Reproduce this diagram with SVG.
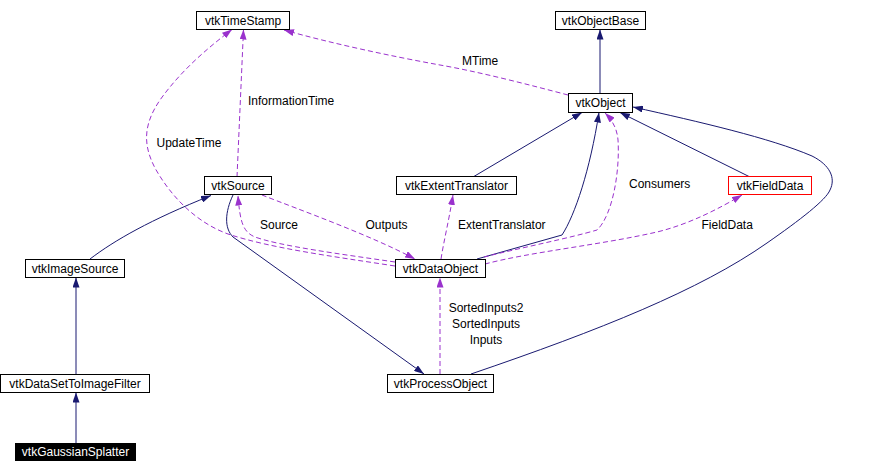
<svg xmlns="http://www.w3.org/2000/svg" width="872" height="474" viewBox="0 0 872 474">
<style>
.box{fill:#fff;stroke:#000;stroke-width:1}
.t{font-family:"Liberation Sans",Arial,sans-serif;font-size:12px;fill:#000;text-anchor:middle}
.lbl{font-family:"Liberation Sans",Arial,sans-serif;font-size:12px;fill:#000}
.inh{fill:none;stroke:#191970;stroke-width:1;marker-end:url(#an)}
.use{fill:none;stroke:#9a32cd;stroke-width:1;stroke-dasharray:5,3;marker-end:url(#ap)}
</style>
<defs>
<marker id="an" viewBox="0 0 10 7" refX="10" refY="3.5" markerWidth="10" markerHeight="7" markerUnits="userSpaceOnUse" orient="auto">
<path d="M0,0 L10,3.5 L0,7 z" fill="#191970"/>
</marker>
<marker id="ap" viewBox="0 0 10 7" refX="10" refY="3.5" markerWidth="10" markerHeight="7" markerUnits="userSpaceOnUse" orient="auto">
<path d="M0,0 L10,3.5 L0,7 z" fill="#9a32cd"/>
</marker>
</defs>
<rect width="872" height="474" fill="#fff"/>
<g id="connectors">
<path class="inh" d="M600,93 L600,29.5"/>
<path class="inh" d="M473,177 L582,112.5"/>
<path class="inh" d="M477,259 L562,235 C575,215 590,170 599,112.5"/>
<path class="inh" d="M750,177 L620,112.5"/>
<path class="inh" d="M471,374 C600,330 700,290 767,243 C800,220 826,200 830,190 C836,178 830,165 812,156 C770,138 700,122 633,107"/>
<path class="inh" d="M233,195 C225,212 224,228 233,237 L424,374"/>
<path class="inh" d="M90,259 C115,240 150,220 211,195.5"/>
<path class="inh" d="M76,374 L76,277.5"/>
<path class="inh" d="M76,443 L76,392.5"/>
<path class="use" d="M237,177 L243.5,29.5"/>
<path class="use" d="M395,266 C330,256 270,248 228,234 C195,222 170,195 155,168 C143,145 143,125 160,100 C180,72 205,50 232,29.5"/>
<path class="use" d="M395,262 C340,254 280,246 255,237 C243,232 240,222 238,195.5"/>
<path class="use" d="M262,195 C300,210 370,235 415,259"/>
<path class="use" d="M441,259 C444,240 449,220 453,195"/>
<path class="use" d="M484,257 C520,248 570,238 597,230 C613,215 620,170 618,140 C617,128 612,120 605,113"/>
<path class="use" d="M485,264 C530,252 600,245 657,232 C690,224 720,208 742,195"/>
<path class="use" d="M568,95 C530,85 480,72 440,65 C390,56 330,43 284,30"/>
<path class="use" d="M440,374 L440,277.5"/>
<text class="lbl" x="462" y="64.5">MTime</text>
<text class="lbl" x="248" y="105">InformationTime</text>
<text class="lbl" x="156.5" y="147">UpdateTime</text>
<text class="lbl" x="629" y="188">Consumers</text>
<text class="lbl" x="260" y="228.5">Source</text>
<text class="lbl" x="365.5" y="228.5">Outputs</text>
<text class="lbl" x="458" y="229">ExtentTranslator</text>
<text class="lbl" x="701.5" y="229">FieldData</text>
<text class="t" x="486" y="312">SortedInputs2</text>
<text class="t" x="486" y="328">SortedInputs</text>
<text class="t" x="486" y="344">Inputs</text>
</g>
<g id="vtkTimeStamp"><rect class="box" x="196.5" y="11.5" width="93" height="18"/><text class="t" x="243" y="24.5">vtkTimeStamp</text></g>
<g id="vtkObjectBase"><rect class="box" x="555.5" y="11.5" width="90" height="18"/><text class="t" x="600.5" y="24.5">vtkObjectBase</text></g>
<g id="vtkObject"><rect class="box" x="568.5" y="93.5" width="64" height="19"/><text class="t" x="600.5" y="107">vtkObject</text></g>
<g id="vtkSource"><rect class="box" x="204.5" y="176.5" width="67" height="18"/><text class="t" x="238" y="189.5">vtkSource</text></g>
<g id="vtkExtentTranslator"><rect class="box" x="396.5" y="176.5" width="120" height="18"/><text class="t" x="456.5" y="189.5">vtkExtentTranslator</text></g>
<g id="vtkFieldData"><rect class="box" x="728.5" y="176.5" width="83" height="18" style="stroke:#ff0000"/><text class="t" x="770" y="189.5">vtkFieldData</text></g>
<g id="vtkImageSource"><rect class="box" x="25.5" y="259.5" width="99" height="18"/><text class="t" x="75" y="272.5">vtkImageSource</text></g>
<g id="vtkDataObject"><rect class="box" x="395.5" y="259.5" width="90" height="18"/><text class="t" x="440.5" y="272.5">vtkDataObject</text></g>
<g id="vtkDataSetToImageFilter"><rect class="box" x="0.5" y="374.5" width="149" height="18"/><text class="t" x="75" y="387.5">vtkDataSetToImageFilter</text></g>
<g id="vtkProcessObject"><rect class="box" x="387.5" y="374.5" width="106" height="18"/><text class="t" x="440.5" y="387.5">vtkProcessObject</text></g>
<g id="vtkGaussianSplatter"><rect x="15" y="443" width="121" height="18" fill="#000"/><text class="t" x="75.5" y="456" style="fill:#fff">vtkGaussianSplatter</text></g>
</svg>
